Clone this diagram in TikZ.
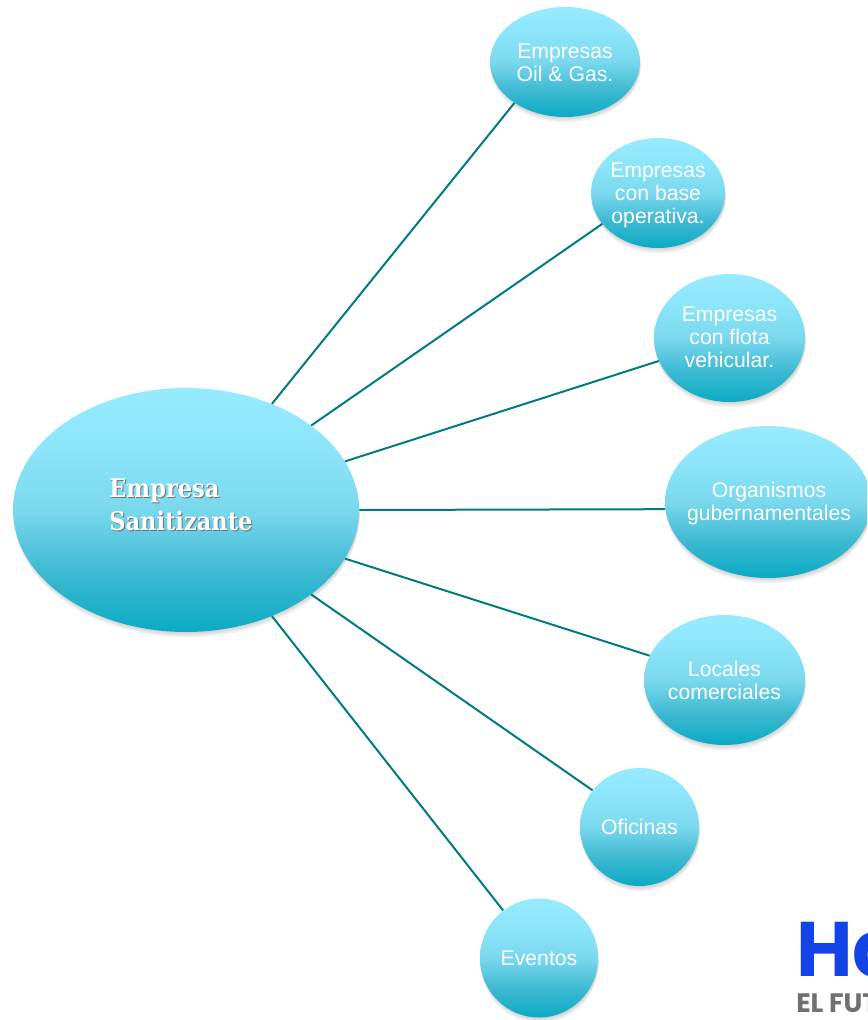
\documentclass[tikz,border=0pt]{standalone}
\usepackage{fontspec}
\setsansfont{Liberation Sans}
\newfontfamily\slabfont[FakeStretch=0.88]{DejaVu Serif}
\newfontfamily\logofont{Poppins}
\usepackage{xcolor}
\usetikzlibrary{shapes.geometric,shadows}

\definecolor{linkcol}{HTML}{007A85}
\definecolor{logoblue}{HTML}{1443E8}
\definecolor{logogray}{HTML}{707070}
\pgfdeclareverticalshading{bubshade}{100bp}{
    color(0bp)=(rgb,255:red,11;green,170;blue,196);
    color(25bp)=(rgb,255:red,11;green,170;blue,196);
    color(37.5bp)=(rgb,255:red,62;green,186;blue,210);
    color(50bp)=(rgb,255:red,122;green,216;blue,238);
    color(62.5bp)=(rgb,255:red,140;green,229;blue,249);
    color(75bp)=(rgb,255:red,151;green,235;blue,255);
    color(100bp)=(rgb,255:red,151;green,235;blue,255)}

\begin{document}
\begin{tikzpicture}[x=0.75pt, y=-0.75pt]
\tikzstyle{bubble}=[
    ellipse, inner sep=0pt, shading=bubshade,
    drop shadow={opacity=.09, shadow xshift=0.5pt, shadow yshift=-1pt},
    drop shadow={opacity=.09, shadow xshift=0.5pt, shadow yshift=-2pt},
    drop shadow={opacity=.09, shadow xshift=0.5pt, shadow yshift=-3pt},
    drop shadow={opacity=.09, shadow xshift=0.5pt, shadow yshift=-4pt}
]
\tikzstyle{blab}=[
    align=center, text=white, inner sep=0pt,
    font=\sffamily\fontsize{15.9}{17.25}\selectfont
]
\tikzstyle{maintext}=[
    align=left, anchor=west, inner sep=0pt,
    font=\slabfont\fontsize{19.2}{24.75}\selectfont\bfseries
]
\tikzstyle{link}=[draw=linkcol, line width=1.5pt]

\useasboundingbox (0,0) rectangle (867,1020);
\clip (0,0) rectangle (867,1020);

\node[bubble, minimum width=259.5pt, minimum height=183pt] (main) at (186,510) {};
\node[maintext, text=black!55] (mainsh) at (110,506) {Empresa\\Sanitizante};
\node[maintext, text=white] (maintxt) at (109,505) {Empresa\\Sanitizante};

\node[bubble, minimum width=112.5pt, minimum height=82.5pt,
    label={[blab,yshift=-0.75pt]center:Empresas\\Oil \& Gas.}] (oil) at (565,62) {};
\node[bubble, minimum width=100.5pt, minimum height=82.5pt,
    label={[blab,yshift=-1.5pt]center:Empresas\\con base\\operativa.}] (base) at (658,193) {};
\node[bubble, minimum width=113.25pt, minimum height=96pt,
    label={[blab,yshift=0.75pt]center:Empresas\\con flota\\vehicular.}] (flota) at (729.5,338) {};
\node[bubble, minimum width=154.5pt, minimum height=114pt,
    label={[blab,xshift=0.75pt,yshift=-1pt]center:Organismos\\gubernamentales}] (gob) at (768,502) {};
\node[bubble, minimum width=120.75pt, minimum height=97.5pt,
    label={[blab]center:Locales\\comerciales}] (locales) at (724.5,680) {};
\node[bubble, minimum width=89.25pt, minimum height=88.5pt,
    label={[blab]center:Oficinas}] (oficinas) at (639.5,827) {};
\node[bubble, minimum width=88.5pt, minimum height=89.25pt,
    label={[blab]center:Eventos}] (eventos) at (539,958) {};

\draw[link] (main.51.3) -- (oil.219.2);
\draw[link] (main.34.4) -- (base.209);
\draw[link] (main.17.4) -- (flota.198.6);
\draw[link] (main.0) -- (gob.184.9);
\draw[link] (main.-17.4) -- (locales.162.8);
\draw[link] (main.-34.4) -- (oficinas.142);
\draw[link] (main.-51.3) -- (eventos.127.6);

% logo, cut by the page edge
\node[anchor=base west, inner sep=0pt, text=logoblue,
    font=\logofont\bfseries\fontsize{58}{58}\selectfont] (logo) at (796,976) {Ha};
\node[anchor=base west, inner sep=0pt, text=logogray,
    font=\logofont\bfseries\fontsize{20}{20}\selectfont] (logosub) at (796,1012) {EL FUT};
\end{tikzpicture}
\end{document}
